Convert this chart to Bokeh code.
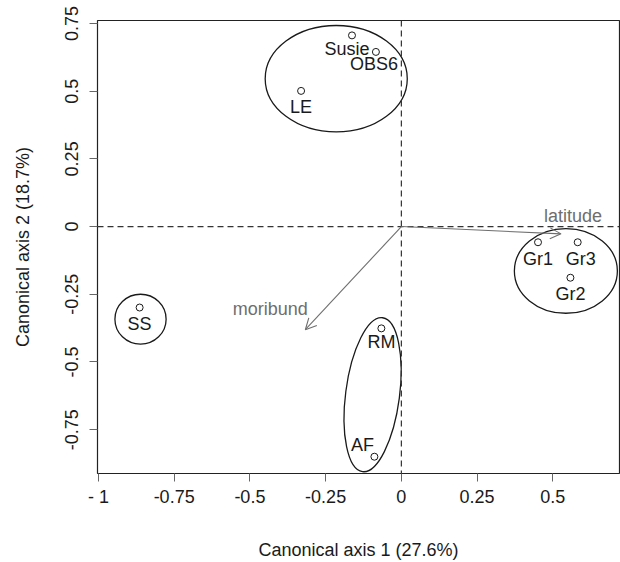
from bokeh.plotting import figure
from bokeh.models import Range1d, FixedTicker, Span, Arrow, OpenHead, ColumnDataSource
from bokeh.core.properties import value
from bokeh.embed import file_html
from bokeh.resources import INLINE

# ---- data ----
sites = ["Susie", "OBS6", "LE", "Gr1", "Gr3", "Gr2", "SS", "RM", "AF"]
axis1 = [-0.163, -0.084, -0.331, 0.451, 0.582, 0.558, -0.864, -0.066, -0.089]
axis2 = [0.706, 0.645, 0.501, -0.058, -0.058, -0.189, -0.299, -0.376, -0.850]

env_vars = ["latitude", "moribund"]
env_axis1 = [0.527, -0.317]
env_axis2 = [-0.027, -0.381]

group_cx = [-0.215, -0.861, 0.543, -0.095]
group_cy = [0.546, -0.342, -0.164, -0.621]
group_w = [0.469, 0.169, 0.340, 0.178]
group_h = [0.393, 0.184, 0.3125, 0.574]
group_angle = [0.0, 0.0, 0.0, -0.13]

xtick_values = [-1, -0.75, -0.5, -0.25, 0, 0.25, 0.5]
xtick_labels = ["- 1", "-0.75", "-0.5", "-0.25", "0", "0.25", "0.5"]
ytick_values = [-0.75, -0.5, -0.25, 0, 0.25, 0.5, 0.75]
ytick_labels = ["-0.75", "-0.5", "-0.25", "0", "0.25", "0.5", "0.75"]

x_title = "Canonical axis 1 (27.6%)"
y_title = "Canonical axis 2 (18.7%)"

# ---- layout / style (pixel offsets of labels) ----
site_dx = [-5, -2, 0, 0, 3, 0, 0, 0, -12]
site_dy = [14, 12, 16.5, 17, 17, 16, 16, 14, -12]
env_dx = [12, -35]
env_dy = [-18, -21]

FONT = "Liberation Sans"
FS = "18px"
INK = "#1a1a1a"
GREY = "#6e6e6e"

p = figure(width=620, height=562, output_backend="svg", toolbar_location=None,
           x_range=Range1d(-1.003, 0.72), y_range=Range1d(-0.912, 0.761),
           min_border_left=97, min_border_right=1, min_border_top=20, min_border_bottom=87,
           x_axis_label=x_title, y_axis_label=y_title)
p.background_fill_color = "white"
p.border_fill_color = "white"
p.outline_line_color = "#222222"
p.outline_line_width = 1.2
p.xgrid.visible = False
p.ygrid.visible = False

for ax, vals, labs in ((p.xaxis[0], xtick_values, xtick_labels), (p.yaxis[0], ytick_values, ytick_labels)):
    ax.ticker = FixedTicker(ticks=vals)
    ax.major_label_overrides = {v: l for v, l in zip(vals, labs)}
    ax.axis_line_color = None
    ax.major_tick_line_color = "#666666"
    ax.major_tick_in = 0
    ax.major_tick_out = 8
    ax.minor_tick_line_color = None
    ax.major_label_text_font = FONT
    ax.major_label_text_font_size = FS
    ax.major_label_text_color = INK
    ax.axis_label_text_font = FONT
    ax.axis_label_text_font_size = FS
    ax.axis_label_text_font_style = "normal"
    ax.axis_label_text_color = INK
p.xaxis.major_label_standoff = 5
p.yaxis.major_label_standoff = 11
p.yaxis.major_label_orientation = "vertical"
p.xaxis.axis_label_standoff = 30
p.yaxis.axis_label_standoff = 30

# reference lines
for dim in ("height", "width"):
    p.add_layout(Span(location=0, dimension=dim, line_color="#333333",
                      line_width=1.2, line_dash="6 4"))

# group ellipses
p.ellipse(x=group_cx, y=group_cy, width=group_w, height=group_h, angle=group_angle,
          fill_alpha=0, line_color=INK, line_width=1.3)

# environmental arrows
asrc = ColumnDataSource(dict(x0=[0] * len(env_vars), y0=[0] * len(env_vars),
                             x1=env_axis1, y1=env_axis2))
p.add_layout(Arrow(source=asrc, x_start="x0", y_start="y0", x_end="x1", y_end="y1",
                   line_color=GREY, line_width=1.1,
                   end=OpenHead(size=11, line_color=GREY, line_width=1.1)))
p.text(x=env_axis1, y=env_axis2, text=env_vars, x_offset=env_dx, y_offset=env_dy,
       text_font=value(FONT), text_font_size=FS, text_color=GREY,
       text_align="center", text_baseline="middle")

# sites
p.scatter(x=axis1, y=axis2, marker="circle", size=7, fill_alpha=0,
          line_color=INK, line_width=1)
p.text(x=axis1, y=axis2, text=sites, x_offset=site_dx, y_offset=site_dy,
       text_font=value(FONT), text_font_size=FS, text_color=INK,
       text_align="center", text_baseline="middle")

open("out.html", "w").write(file_html(p, INLINE))
